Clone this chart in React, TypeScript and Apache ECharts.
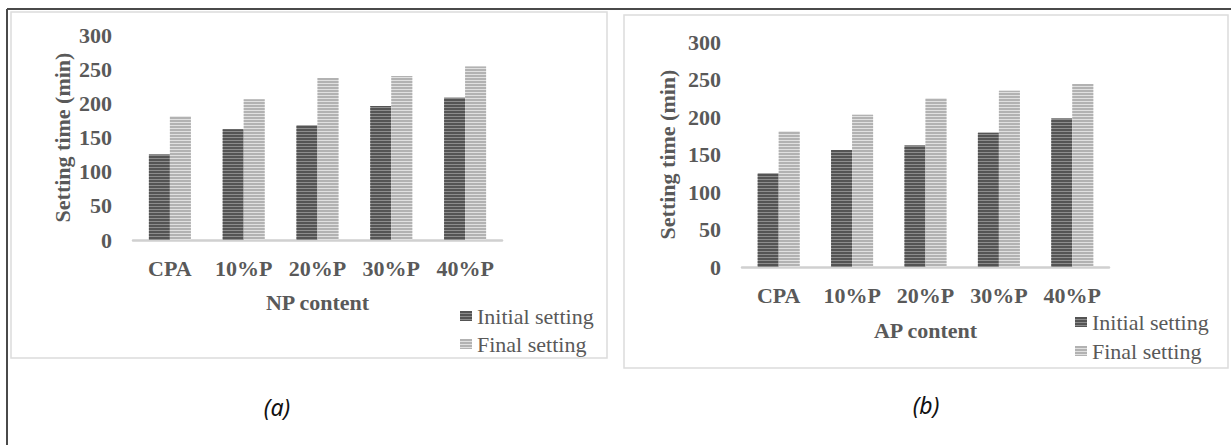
import React, { useEffect, useRef } from "react";
import * as echarts from "echarts";

const categories = ["CPA", "10%P", "20%P", "30%P", "40%P"];
const npInitial = [125, 162, 168, 196, 208];
const npFinal = [181, 206, 237, 240, 254];
const apInitial = [125, 156, 162, 179, 198];
const apFinal = [181, 203, 225, 235, 244];
const yTicks = { min: 0, max: 300, interval: 50 };
const seriesNames = ["Initial setting", "Final setting"];
const panelTitles = ["NP content", "AP content"];
const axisTitle = "Setting time (min)";
const captions = ["(a)", "(b)"];

const SERIF = "'Liberation Serif', 'Times New Roman', serif";
const LABEL = "#595959";

const initialStyle = {
  color: "#8c8c8c",
  decal: { symbol: "rect", symbolSize: 1, color: "#545454", dashArrayX: [1, 0], dashArrayY: [2, 1], rotation: 0 },
};
const finalStyle = {
  color: "#e0e0e0",
  decal: { symbol: "rect", symbolSize: 1, color: "#b2b2b2", dashArrayX: [1, 0], dashArrayY: [2, 1], rotation: 0 },
};

export default function App() {
  const ref = useRef<HTMLDivElement>(null);
  useEffect(() => {
    document.body.style.margin = "0";
    const chart = echarts.init(ref.current!, undefined, { renderer: "svg" });
    const xAxisBase = (idx: number, gap: number) => ({
      type: "category",
      gridIndex: idx,
      data: categories,
      name: panelTitles[idx],
      nameLocation: "middle",
      nameGap: gap,
      nameTextStyle: { fontFamily: SERIF, fontWeight: "bold", fontSize: 22, color: LABEL },
      axisLine: { show: true, lineStyle: { color: "#d0d0d0", width: 2.5 } },
      axisTick: { show: false },
      axisLabel: { fontFamily: SERIF, fontWeight: "bold", fontSize: 22, color: LABEL, margin: 17, interval: 0 },
      splitLine: { show: false },
    });
    const yAxisBase = (idx: number, gap: number) => ({
      type: "value",
      gridIndex: idx,
      ...yTicks,
      name: axisTitle,
      nameLocation: "middle",
      nameRotate: 90,
      nameGap: gap,
      nameTextStyle: { fontFamily: SERIF, fontWeight: "bold", fontSize: 22, color: LABEL },
      axisLine: { show: false },
      axisTick: { show: false },
      axisLabel: { fontFamily: SERIF, fontWeight: "bold", fontSize: 22, color: LABEL, margin: 21 },
      splitLine: { show: false },
    });
    const legendBase = (left: number, top: number, gap: number) => ({
      orient: "vertical",
      left,
      top,
      itemWidth: 12,
      itemHeight: 10,
      itemGap: gap,
      icon: "rect",
      data: seriesNames,
      textStyle: { fontFamily: SERIF, fontSize: 22, color: LABEL },
      selectedMode: false,
    });
    const bar = (name: string, x: number, data: number[], style: any) => ({
      type: "bar",
      name,
      xAxisIndex: x,
      yAxisIndex: x,
      data,
      barWidth: 21,
      barGap: "0%",
      itemStyle: style,
    });
    chart.setOption({
      animation: false,
      backgroundColor: "#ffffff",
      grid: [
        { left: 133, right: 729, top: 35, bottom: 205 },
        { left: 742, right: 122, top: 42, bottom: 178 },
      ],
      xAxis: [xAxisBase(0, 51), xAxisBase(1, 52)],
      yAxis: [yAxisBase(0, 60), yAxisBase(1, 64)],
      legend: [legendBase(455, 300, 6), legendBase(1070, 306, 7)],
      series: [
        bar(seriesNames[0], 0, npInitial, initialStyle),
        bar(seriesNames[1], 0, npFinal, finalStyle),
        bar(seriesNames[0], 1, apInitial, initialStyle),
        bar(seriesNames[1], 1, apFinal, finalStyle),
      ],
      graphic: [
        { type: "line", shape: { x1: 7, y1: 9, x2: 1231, y2: 9 }, style: { stroke: "#4a4a4a", lineWidth: 2 } },
        { type: "line", shape: { x1: 7, y1: 9, x2: 7, y2: 445 }, style: { stroke: "#4a4a4a", lineWidth: 2 } },
        { type: "rect", shape: { x: 11, y: 12, width: 596, height: 346 }, style: { fill: "none", stroke: "#dcdcdc", lineWidth: 1.5 } },
        { type: "rect", shape: { x: 624, y: 15, width: 604, height: 353 }, style: { fill: "none", stroke: "#dcdcdc", lineWidth: 1.5 } },
        {
          type: "text", x: 277, y: 407,
          style: { text: captions[0], font: "italic 23px 'Noto Sans', sans-serif", fill: "#111", align: "center", verticalAlign: "middle" },
        },
        {
          type: "text", x: 926, y: 405,
          style: { text: captions[1], font: "italic 23px 'Noto Sans', sans-serif", fill: "#111", align: "center", verticalAlign: "middle" },
        },
      ],
    });
    return () => chart.dispose();
  }, []);
  return <div ref={ref} style={{ position: "absolute", left: 0, top: 0, width: 1231, height: 445 }} />;
}
